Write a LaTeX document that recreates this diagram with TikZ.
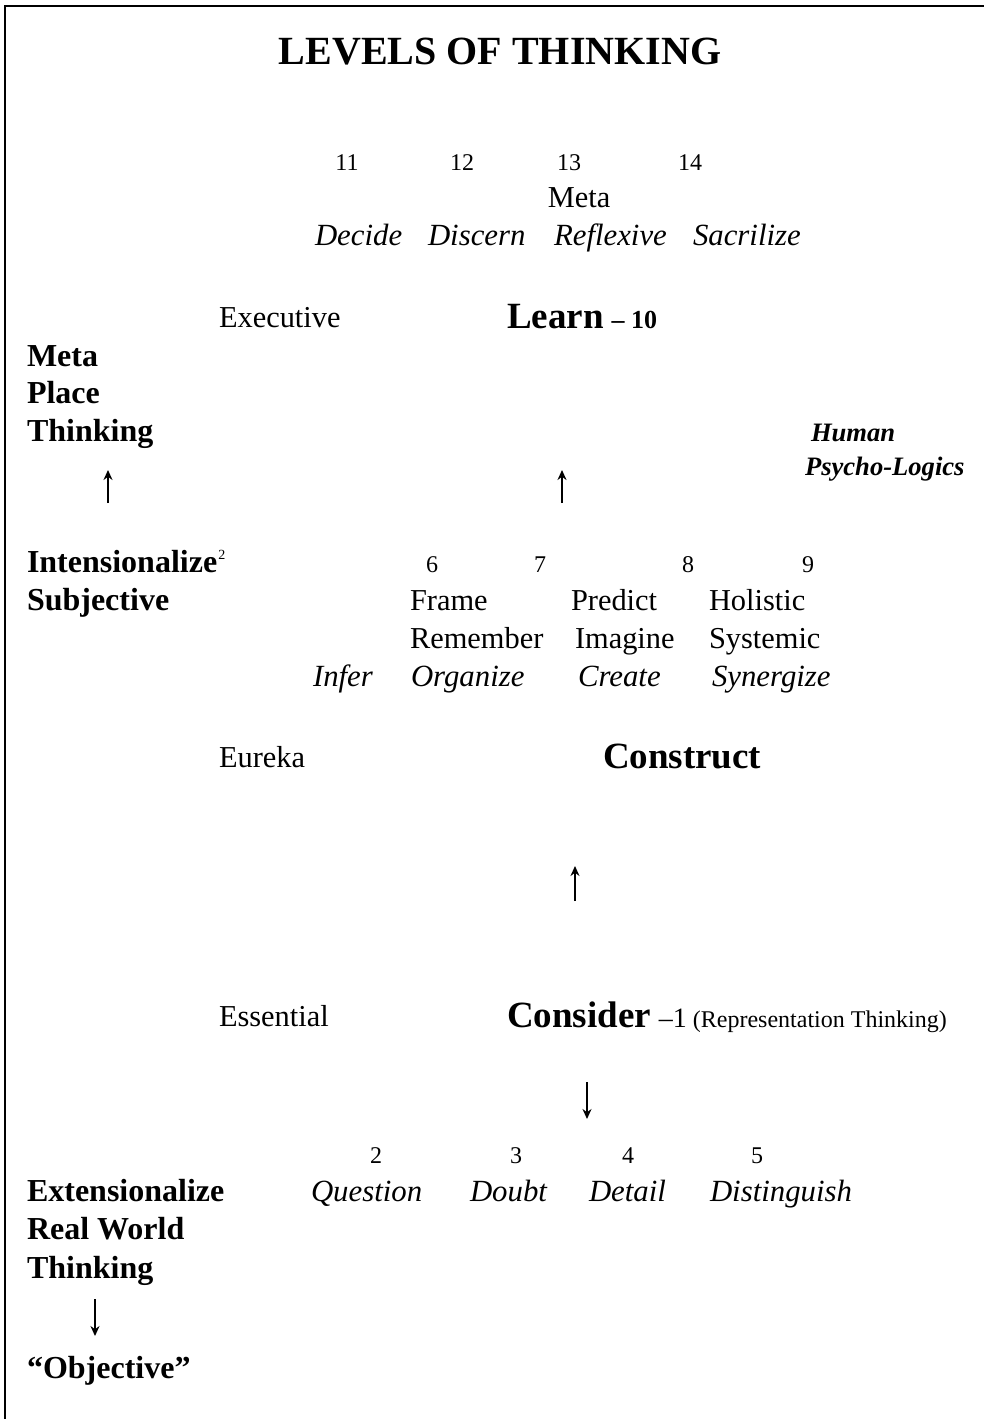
\documentclass[tikz,border=0pt]{standalone}
\usepackage{fontspec}
\setmainfont{Liberation Serif}
\usetikzlibrary{arrows.meta}
\begin{document}
\begin{tikzpicture}[x=0.5pt,y=-0.5pt,
  every node/.style={inner sep=0pt, outer sep=0pt, anchor=base west},
  body/.style={font=\fontsize{15.2}{18}\selectfont},
  bodyit/.style={font=\fontsize{15.4}{18}\selectfont\itshape},
  num/.style={font=\fontsize{12}{14}\selectfont, anchor=base},
  side/.style={font=\fontsize{16}{19}\selectfont\bfseries},
  big/.style={font=\fontsize{18.5}{22}\selectfont\bfseries},
  ttl/.style={font=\fontsize{20}{24}\selectfont\bfseries, anchor=base},
  hpl/.style={font=\fontsize{13.3}{16}\selectfont\bfseries\itshape},
  flow/.style={-{Stealth[length=5pt,width=4.5pt]}, line width=0.8pt},
]
\useasboundingbox (0,0) rectangle (984,1419);

% open frame: top and left edges
\draw[line width=1.1pt] (5,1419) -- (5,6) -- (984,6);

% title
\node[ttl] (title) at (500,64) {LEVELS OF THINKING};

% level 11-14
\node[num] (n11) at (347,170) {11};
\node[num] (n12) at (462,170) {12};
\node[num] (n13) at (569,170) {13};
\node[num] (n14) at (690,170) {14};
\node[body, anchor=base] (meta) at (579,207) {Meta};
\node[bodyit] (decide) at (315,245) {Decide};
\node[bodyit] (discern) at (428,245) {Discern};
\node[bodyit] (reflexive) at (554,245) {Reflexive};
\node[bodyit] (sacrilize) at (693,245) {Sacrilize};

% executive level
\node[body] (executive) at (219,327) {Executive};
\node[big] (learn) at (507,328) {Learn};
\node[font=\fontsize{13}{15}\selectfont\bfseries] (learnnum) at ([xshift=4pt]learn.base east) {– 10};

% left column, upper block
\node[side] (lmeta) at (27,366) {Meta};
\node[side] (lplace) at (27,403) {Place};
\node[side] (lthink) at (27,441) {Thinking};

% right note
\node[hpl] (human) at (811,441) {Human};
\node[hpl] (psycho) at (805,475) {Psycho-Logics};

% upward arrows
\coordinate (aL1) at (108,503);
\coordinate (aL2) at (108,470);
\coordinate (aM1) at (562,503);
\coordinate (aM2) at (562,470);
\draw[flow] (aL1) -- (aL2);
\draw[flow] (aM1) -- (aM2);

% levels 6-9
\node[side] (intens) at (27,572) {Intensionalize};
\node[font=\fontsize{7}{8}\selectfont] (sup2) at ([xshift=0.6pt,yshift=6.5pt]intens.base east) {2};
\node[num] (n6) at (432,572) {6};
\node[num] (n7) at (540,572) {7};
\node[num] (n8) at (688,572) {8};
\node[num] (n9) at (808,572) {9};

\node[side] (subj) at (27,610) {Subjective};
\node[body] (frame) at (410,610) {Frame};
\node[body] (predict) at (571,610) {Predict};
\node[body] (holistic) at (709,610) {Holistic};

\node[body] (remember) at (410,648) {Remember};
\node[body] (imagine) at (575,648) {Imagine};
\node[body] (systemic) at (709,648) {Systemic};

\node[bodyit] (infer) at (313,686) {Infer};
\node[bodyit] (organize) at (411,686) {Organize};
\node[bodyit] (create) at (578,686) {Create};
\node[bodyit] (synergize) at (712,686) {Synergize};

% eureka level
\node[body] (eureka) at (219,767) {Eureka};
\node[big] (construct) at (603,768) {Construct};

\coordinate (aC1) at (575,901);
\coordinate (aC2) at (575,866);
\draw[flow] (aC1) -- (aC2);

% essential level
\node[body] (essential) at (219,1026) {Essential};
\node[big] (consider) at (507,1027) {Consider};
\node[font=\fontsize{14}{16}\selectfont] (cnum) at ([xshift=4pt]consider.base east) {–1};
\node[font=\fontsize{12}{14}\selectfont] (repr) at ([xshift=3pt]cnum.base east) {(Representation Thinking)};

\coordinate (aD1) at (587,1082);
\coordinate (aD2) at (587,1119);
\draw[flow] (aD1) -- (aD2);

% levels 2-5
\node[num] (n2) at (376,1163) {2};
\node[num] (n3) at (516,1163) {3};
\node[num] (n4) at (628,1163) {4};
\node[num] (n5) at (757,1163) {5};

\node[side] (extens) at (27,1201) {Extensionalize};
\node[bodyit] (question) at (311,1201) {Question};
\node[bodyit] (doubt) at (470,1201) {Doubt};
\node[bodyit] (detail) at (589,1201) {Detail};
\node[bodyit] (distinguish) at (710,1201) {Distinguish};

\node[side] (realworld) at (27,1239) {Real World};
\node[side] (lthink2) at (27,1278) {Thinking};

\coordinate (aB1) at (95,1299);
\coordinate (aB2) at (95,1336);
\draw[flow] (aB1) -- (aB2);

\node[side] (objective) at (27,1378) {“Objective”};
\end{tikzpicture}
\end{document}
